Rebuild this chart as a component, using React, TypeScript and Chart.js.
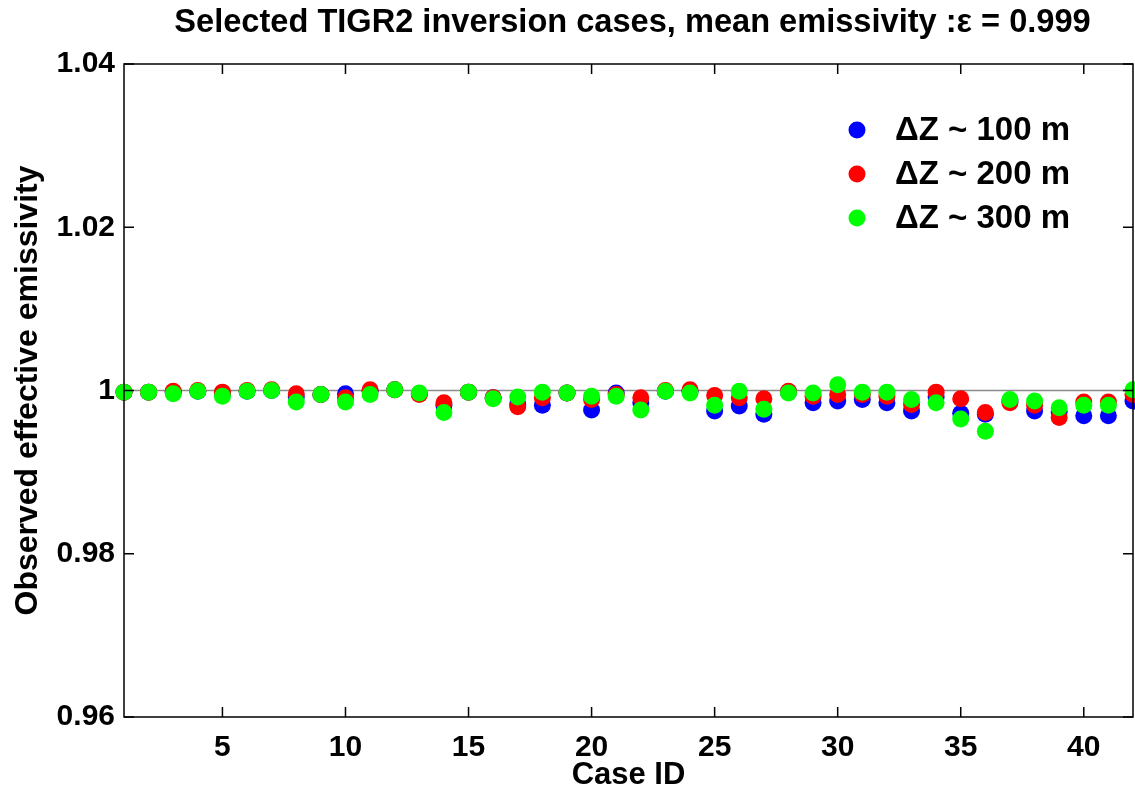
import React, { useEffect, useRef } from 'react';
import { Chart, registerables } from 'chart.js';

Chart.register(...registerables);

const titleText = 'Selected TIGR2 inversion cases, mean emissivity :\u03b5 = 0.999';
const xAxisTitle = 'Case ID';
const yAxisTitle = 'Observed effective emissivity';

const caseIds = [1, 2, 3, 4, 5, 6, 7, 8, 9, 10, 11, 12, 13, 14, 15, 16, 17, 18, 19, 20, 21, 22, 23, 24, 25, 26, 27, 28, 29, 30, 31, 32, 33, 34, 35, 36, 37, 38, 39, 40, 41, 42];

const dz100 = [0.9998, 0.9998, 0.9998, 0.9999, 0.9996, 0.9999, 1.0, 0.9992, 0.9995, 0.9996, 0.9999, 1.0001, 0.9996, 0.9982, 0.9998, 0.9991, 0.9983, 0.9982, 0.9997, 0.9976, 0.9997, 0.9985, 0.9999, 0.9999, 0.9975, 0.9981, 0.9971, 0.9998, 0.9985, 0.9987, 0.9989, 0.9985, 0.9975, 0.9992, 0.9972, 0.9971, 0.9987, 0.9975, 0.9974, 0.9969, 0.9969, 0.9987];
const dz200 = [0.9998, 0.9998, 0.9999, 1.0, 0.9998, 1.0, 1.0001, 0.9996, 0.9995, 0.9991, 1.0001, 1.0001, 0.9995, 0.9985, 0.9998, 0.9991, 0.998, 0.9991, 0.9997, 0.9989, 0.9995, 0.9991, 1.0, 1.0001, 0.9994, 0.9991, 0.999, 0.9999, 0.9993, 0.9995, 0.9995, 0.9993, 0.9983, 0.9998, 0.999, 0.9973, 0.9985, 0.9982, 0.9967, 0.9986, 0.9986, 0.9995];
const dz300 = [0.9998, 0.9998, 0.9996, 0.9999, 0.9993, 0.9999, 1.0, 0.9986, 0.9995, 0.9986, 0.9995, 1.0001, 0.9997, 0.9973, 0.9998, 0.999, 0.9992, 0.9998, 0.9997, 0.9993, 0.9993, 0.9976, 0.9999, 0.9997, 0.9982, 0.9999, 0.9977, 0.9997, 0.9997, 1.0007, 0.9998, 0.9998, 0.9989, 0.9985, 0.9965, 0.995, 0.9989, 0.9987, 0.9979, 0.9982, 0.9982, 1.0001];

const seriesLabels = ['\u0394Z ~ 100 m', '\u0394Z ~ 200 m', '\u0394Z ~ 300 m'];
const seriesColors = ['rgb(0,0,255)', 'rgb(255,0,0)', 'rgb(0,255,0)'];

const referenceLevel = [1, 1];
const referenceX = [1, 42];

const xTickValues = [5, 10, 15, 20, 25, 30, 35, 40];
const yTickValues = [0.96, 0.98, 1, 1.02, 1.04];
const yTickLabels = ['0.96', '0.98', '1', '1.02', '1.04'];

const FONT = "'Liberation Sans', Arial, sans-serif";

const framePlugin = {
  id: 'framePlugin',
  afterDatasetsDraw(chart: any) {
    const { ctx, chartArea } = chart;
    const { left, right, top, bottom } = chartArea;
    const xs = chart.scales.x;
    const ys = chart.scales.y;
    ctx.save();
    ctx.strokeStyle = '#000';
    ctx.lineWidth = 1.5;
    ctx.strokeRect(left, top, right - left, bottom - top);
    const tl = 10;
    ctx.beginPath();
    xTickValues.forEach((v) => {
      const px = xs.getPixelForValue(v);
      ctx.moveTo(px, bottom);
      ctx.lineTo(px, bottom - tl);
      ctx.moveTo(px, top);
      ctx.lineTo(px, top + tl);
    });
    yTickValues.forEach((v) => {
      const py = ys.getPixelForValue(v);
      ctx.moveTo(left, py);
      ctx.lineTo(left + tl, py);
      ctx.moveTo(right, py);
      ctx.lineTo(right - tl, py);
    });
    ctx.stroke();
    ctx.restore();
  },
  afterDraw(chart: any) {
    const { ctx, chartArea } = chart;
    ctx.save();
    ctx.fillStyle = '#000';
    ctx.font = `bold 32.6px ${FONT}`;
    ctx.textAlign = 'center';
    ctx.textBaseline = 'middle';
    ctx.fillText(titleText, (chartArea.left + chartArea.right) / 2 + 4, 23);
    ctx.font = `bold 33px ${FONT}`;
    ctx.textAlign = 'left';
    const lx = chartArea.left + 733;
    const ly = chartArea.top + 66;
    seriesLabels.forEach((lab, i) => {
      const y = ly + i * 44;
      ctx.beginPath();
      ctx.fillStyle = seriesColors[i];
      ctx.arc(lx, y, 8.5, 0, Math.PI * 2);
      ctx.fill();
      ctx.fillStyle = '#000';
      ctx.fillText(lab, lx + 38, y + 1);
    });
    ctx.restore();
  },
};

export default function App() {
  const ref = useRef<HTMLCanvasElement>(null);
  useEffect(() => {
    document.body.style.margin = '0';
    const canvas = ref.current!;
    const mk = (vals: number[]) => caseIds.map((c, i) => ({ x: c, y: vals[i] }));
    const chart = new Chart(canvas, {
      type: 'scatter',
      data: {
        datasets: [
          {
            type: 'line',
            label: 'ref',
            data: referenceX.map((x, i) => ({ x, y: referenceLevel[i] })),
            borderColor: '#8c8c8c',
            borderWidth: 1.5,
            pointRadius: 0,
            order: 3,
          } as any,
          {
            label: seriesLabels[0],
            data: mk(dz100),
            backgroundColor: seriesColors[0],
            borderWidth: 0,
            pointRadius: 8.5,
            order: 2,
            clip: false,
          },
          {
            label: seriesLabels[1],
            data: mk(dz200),
            backgroundColor: seriesColors[1],
            borderWidth: 0,
            pointRadius: 8.5,
            order: 1,
            clip: false,
          },
          {
            label: seriesLabels[2],
            data: mk(dz300),
            backgroundColor: seriesColors[2],
            borderWidth: 0,
            pointRadius: 8.5,
            order: 0,
            clip: false,
          },
        ],
      },
      options: {
        animation: false,
        responsive: false,
        devicePixelRatio: 1,
        layout: { autoPadding: false, padding: { top: 64, right: 2, bottom: 0, left: 0 } },
        plugins: {
          legend: { display: false },
          tooltip: { enabled: false },
          title: { display: false },
        },
        scales: {
          x: {
            type: 'linear',
            min: 1,
            max: 42,
            grid: { display: false, drawTicks: false },
            border: { display: false },
            afterFit: (s: any) => {
              s.height = 77;
              s.paddingLeft = 0;
              s.paddingRight = 0;
            },
            afterBuildTicks: (s: any) => { s.ticks = xTickValues.map((v) => ({ value: v })); },
            ticks: {
              padding: 13,
              color: '#000',
              font: { family: FONT, size: 30, weight: 'bold' },
            },
            title: {
              display: true,
              text: xAxisTitle,
              color: '#000',
              padding: { top: 0, bottom: 0 },
              font: { family: FONT, size: 31, weight: 'bold' },
            },
          },
          y: {
            type: 'linear',
            min: 0.96,
            max: 1.04,
            grid: { display: false, drawTicks: false },
            border: { display: false },
            afterFit: (s: any) => {
              s.width = 124;
              s.paddingTop = 0;
              s.paddingBottom = 0;
            },
            afterBuildTicks: (s: any) => { s.ticks = yTickValues.map((v) => ({ value: v })); },
            ticks: {
              padding: 9,
              color: '#000',
              font: { family: FONT, size: 30, weight: 'bold' },
              callback: (v: any) => {
                const idx = yTickValues.findIndex((t) => Math.abs(t - Number(v)) < 1e-9);
                return idx >= 0 ? yTickLabels[idx] : '';
              },
            },
            title: {
              display: true,
              text: yAxisTitle,
              color: '#000',
              padding: { top: 9, bottom: 0 },
              font: { family: FONT, size: 32, weight: 'bold' },
            },
          },
        },
      },
      plugins: [framePlugin],
    });
    return () => chart.destroy();
  }, []);
  return <canvas ref={ref} width={1135} height={794} style={{ display: 'block', width: 1135, height: 794 }} />;
}
